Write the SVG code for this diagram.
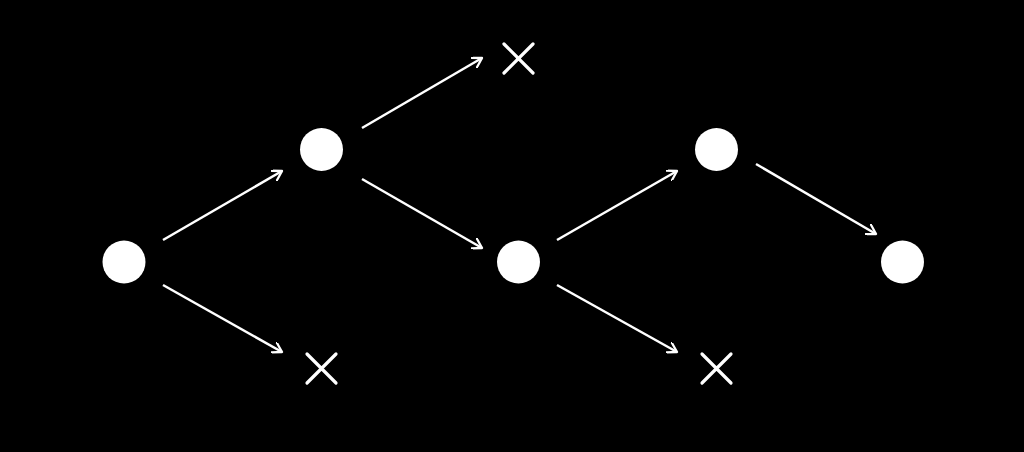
<svg xmlns="http://www.w3.org/2000/svg" width="1024" height="452" viewBox="0 0 1024 452">
<style>
.node{fill:#fff}
.x{stroke:#fff;stroke-width:3.2;stroke-linecap:round;fill:none}
.edge{stroke:#fff;stroke-width:2.5;fill:none;marker-end:url(#arr)}
</style>
<defs>
<marker id="arr" markerWidth="12" markerHeight="12" viewBox="-10 -6 12 12" refX="0" refY="0" orient="auto" markerUnits="userSpaceOnUse">
<path d="M-9,-5.5 L0,0 L-9,5.5" fill="none" stroke="#fff" stroke-width="2.3" stroke-linecap="round" stroke-linejoin="round"/>
</marker>
</defs>
<rect width="1024" height="452" fill="#000"/>
<g id="connectors">
<line class="edge" x1="163" y1="240" x2="282" y2="171"/>
<line class="edge" x1="163" y1="285" x2="282" y2="352"/>
<line class="edge" x1="362" y1="128" x2="482" y2="58"/>
<line class="edge" x1="362" y1="179" x2="482" y2="248"/>
<line class="edge" x1="557" y1="240" x2="677" y2="171"/>
<line class="edge" x1="557" y1="285" x2="677" y2="352"/>
<line class="edge" x1="756" y1="164" x2="876" y2="234"/>
</g>
<g id="n1"><circle class="node" cx="124" cy="262" r="21.5"/></g>
<g id="n2"><circle class="node" cx="321.5" cy="149.5" r="21.5"/></g>
<g id="n3"><circle class="node" cx="518.5" cy="262" r="21.5"/></g>
<g id="n4"><circle class="node" cx="716.5" cy="149.5" r="21.5"/></g>
<g id="n5"><circle class="node" cx="902.5" cy="262" r="21.5"/></g>
<g id="x1"><path class="x" d="M504,44 L533,73 M533,44 L504,73"/></g>
<g id="x2"><path class="x" d="M307,354 L336,383 M336,354 L307,383"/></g>
<g id="x3"><path class="x" d="M702,354 L731,383 M731,354 L702,383"/></g>
</svg>
